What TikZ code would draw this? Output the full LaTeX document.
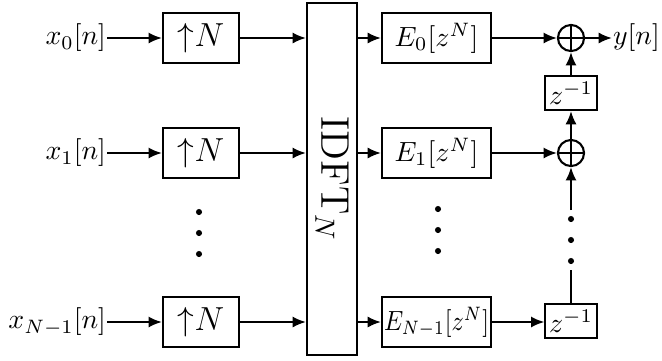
\documentclass[tikz,border=0pt]{standalone}
\usetikzlibrary{arrows.meta}
\begin{document}
\begin{tikzpicture}[x=.36pt,y=-.36pt,line width=.75pt,>={Latex[length=4.8pt,width=4pt]},
  blk/.style={draw,minimum height=18pt,inner sep=1pt},
  upblk/.style={blk,minimum width=27.4pt,font=\large},
  eblk/.style={blk,minimum width=39.2pt,inner sep=0pt},
  dly/.style={draw,minimum width=18.4pt,minimum height=12.2pt,inner sep=1pt},
  adder/.style={draw,circle,minimum size=9.4pt,inner sep=0pt,
    path picture={\draw (path picture bounding box.north)--(path picture bounding box.south)
      (path picture bounding box.west)--(path picture bounding box.east);}}]
\useasboundingbox (0,0) rectangle (662,360);
\node[draw,minimum width=18pt,minimum height=126.7pt] (idft) at (332,179) {};
\node[rotate=-90,font=\Large] (idftlbl) at (idft.center) {$\mathrm{IDFT}_N$};
\foreach \r/\y/\i/\e in {0/38/0/{$E_0[z^N]$},1/153/1/{$E_1[z^N]$},2/322/N-1/{\scalebox{.87}[1]{$E_{N-1}[z^N]$}}}{
  \node[anchor=east,inner sep=0pt] (x\r) at (107,\y) {$x_{\i}[n]$};
  \node[upblk] (up\r) at (201,\y) {${\uparrow}N$};
  \node[eblk] (e\r) at (436.5,\y) {\e};
  \draw[->] (x\r) -- (up\r);
  \draw[->] (up\r) -- (up\r -| idft.west);
  \draw[->] (idft.east |- e\r) -- (e\r);
}
\node[adder] (s0) at (571,38) {};
\node[adder] (s1) at (571,153) {};
\node[dly] (d0) at (571,93) {$z^{-1}$};
\node[dly] (d1) at (571,321) {$z^{-1}$};
\node[anchor=west,inner sep=0pt] (out) at (612,38) {$y[n]$};
\coordinate (gapT) at (571,210);
\coordinate (gapB) at (571,270);
\draw[->] (e0) -- (s0);
\draw[->] (e1) -- (s1);
\draw[->] (e2) -- (e2 -| d1.west);
\draw[->] (s0) -- (out);
\draw[->] (d0) -- (s0);
\draw[->] (s1) -- (d0);
\draw (d1) -- (gapB);
\draw[->] (gapT) -- (s1);
% dots
\foreach \x/\y in {199/212,438/209,571/219}{
  \foreach \k in {0,1,2} \fill (\x,\y+\k*21) circle (1.1pt);
}
\end{tikzpicture}
\end{document}
